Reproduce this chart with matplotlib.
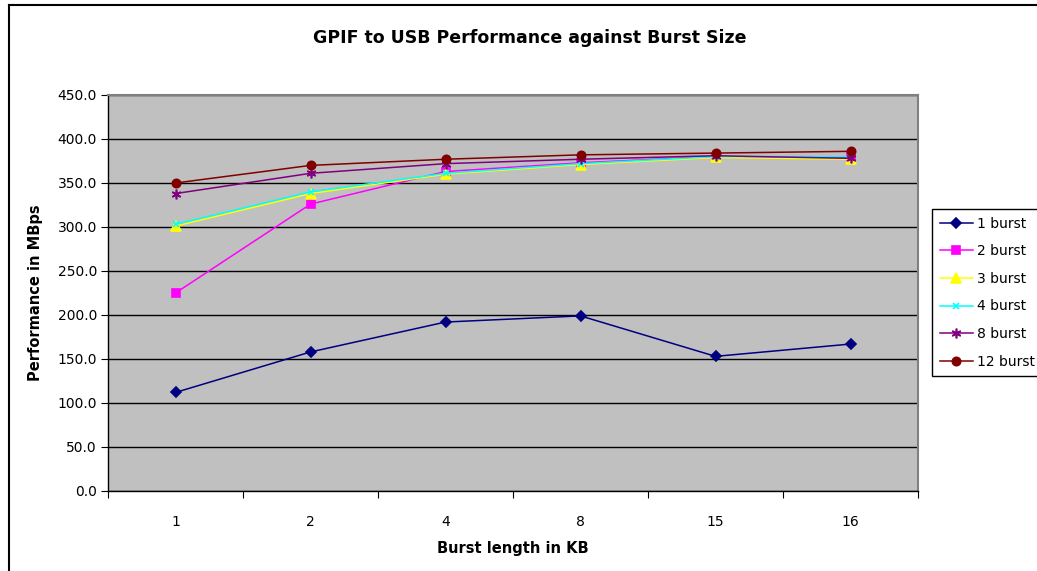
import matplotlib.pyplot as plt
from matplotlib.lines import Line2D

plt.rcParams['font.family'] = ['DejaVu Sans']

# Data
burst_kb = ['1', '2', '4', '8', '15', '16']
burst_1 = [112, 158, 192, 199, 153, 167]
burst_2 = [225, 326, 363, 373, 380, 379]
burst_3 = [301, 338, 360, 371, 379, 377]
burst_4 = [303, 340, 361, 372, 380, 380]
burst_8 = [338, 361, 372, 377, 381, 378]
burst_12 = [350, 370, 377, 382, 384, 386]

series = [
    ('1 burst', burst_1, '#000080', 'D', 5),
    ('2 burst', burst_2, '#FF00FF', 's', 6),
    ('3 burst', burst_3, '#FFFF00', '^', 7),
    ('4 burst', burst_4, '#00FFFF', 'x', 5),
    ('8 burst', burst_8, '#800080', (6, 2, 0), 7),
    ('12 burst', burst_12, '#800000', 'o', 6),
]

fig = plt.figure(figsize=(10.37, 5.71), dpi=100)
ax = fig.add_axes([108 / 1037, 80 / 571, 810 / 1037, 396 / 571])
ax.set_facecolor('#C0C0C0')

x = list(range(len(burst_kb)))
for label, vals, color, marker, ms in series:
    ax.plot(x, vals, color=color, marker=marker, markersize=ms, lw=1.1,
            label=label, markeredgewidth=1.2, zorder=3)

ax.set_xlim(-0.5, len(burst_kb) - 0.5)
ax.set_ylim(0, 450)
ax.set_yticks(range(0, 451, 50))
ax.set_yticklabels([f'{v:.1f}' for v in range(0, 451, 50)], fontsize=10)
ax.yaxis.grid(True, color='black', lw=1)
ax.set_axisbelow(True)

ax.set_xticks([i - 0.5 for i in range(len(burst_kb) + 1)])
ax.set_xticklabels([])
ax.set_xticks(x, minor=True)
ax.set_xticklabels(burst_kb, minor=True, fontsize=10)
ax.tick_params(axis='x', which='minor', length=0, pad=17)
ax.tick_params(axis='x', which='major', length=5, direction='out', color='black')
ax.tick_params(axis='y', length=5, direction='out', pad=3)

for side in ('top', 'right'):
    ax.spines[side].set_color('#808080')
    ax.spines[side].set_linewidth(1.5)
for side in ('left', 'bottom'):
    ax.spines[side].set_color('black')
    ax.spines[side].set_linewidth(1)

ax.set_xlabel('Burst length in KB', fontsize=10.5, fontweight='bold', labelpad=9)
ax.set_ylabel('Performance in MBps', fontsize=10.5, fontweight='bold', labelpad=10)

fig.text(530 / 1037, 1 - 38 / 571, 'GPIF to USB Performance against Burst Size',
         ha='center', va='center', fontsize=12.5, fontweight='bold')

leg = fig.legend(loc='upper left', bbox_to_anchor=(932 / 1037, 1 - 209 / 571),
                 fontsize=10, frameon=True, fancybox=False, framealpha=1,
                 edgecolor='black', handlelength=2.4, handletextpad=0.3,
                 labelspacing=0.98, borderpad=0.55, borderaxespad=0)
leg.get_frame().set_linewidth(1)

# outer chart border (cut off at right and bottom)
fig.add_artist(Line2D([9 / 1037, 9 / 1037], [0, 1 - 5 / 571], transform=fig.transFigure,
                      color='black', lw=1.5))
fig.add_artist(Line2D([9 / 1037, 1], [1 - 5 / 571, 1 - 5 / 571], transform=fig.transFigure,
                      color='black', lw=1.5))

fig.savefig('out.png', dpi=100)
